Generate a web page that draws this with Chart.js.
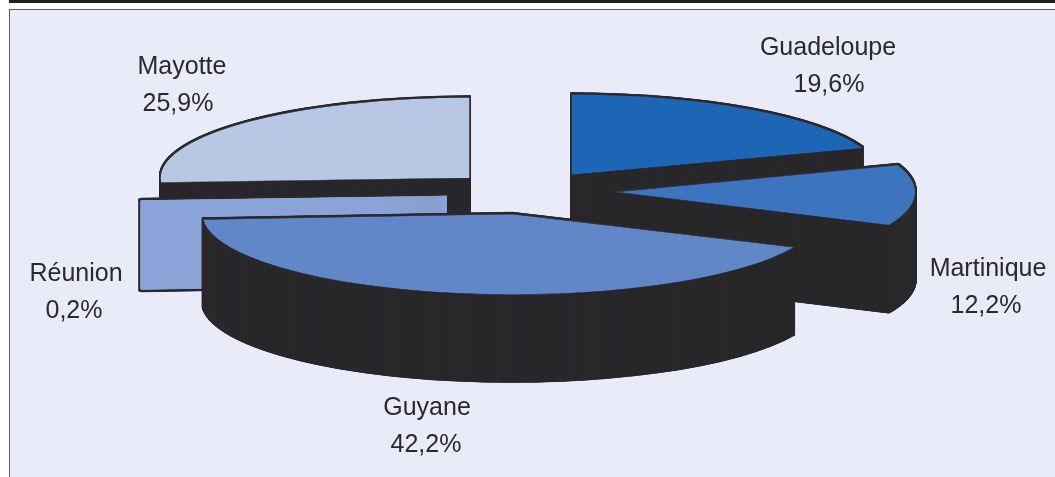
<!DOCTYPE html>
<html lang="fr">
<head>
<meta charset="utf-8">
<title>Répartition</title>
<style>
html,body{margin:0;padding:0;background:#fff;width:1055px;height:477px;overflow:hidden}
#bar{position:absolute;left:9px;top:0;right:0;height:3px;background:#231f20}
#panel{position:absolute;left:9px;top:9px;right:-3px;height:480px;box-sizing:border-box;background:#e9ebf9;border:1.5px solid #5c5c60}
canvas{position:absolute;left:0;top:0}
</style>
<script src="https://cdn.jsdelivr.net/npm/chart.js@4/dist/chart.umd.min.js"></script>
</head>
<body>
<div id="bar"></div>
<div id="panel"></div>
<canvas id="c" width="1055" height="477"></canvas>
<script>
const categories = ['Guadeloupe', 'Martinique', 'Guyane', 'Réunion', 'Mayotte'];
const shares = [19.6, 12.2, 42.2, 0.2, 25.9];
const shareLabels = ['19,6%', '12,2%', '42,2%', '0,2%', '25,9%'];
const colors = ['#1c66b5', '#3c74bf', '#6287c9', '#8ba5d8', '#b8c8e4'];
const explodeX = [51, 95, -8, -73, -50];
const explodeY = [-19, -2, 20, 2, -16];
const rimScale = [1, 0.97, 1, 0.987, 1];
const nameCentres = [[828, 48], [988, 269], [427, 408], [76, 274], [182, 67]];
const shareCentres = [[829, 85], [986, 306], [426, 445], [74, 311], [178, 104]];

const DARK = '#2b292c';
const RADIUS = 310, TILT = 0.26, DEPTH = 88, CX = 520, CY = 194, STEP = 0.25;
const PAINT_ORDER = [4, 0, 3, 1, 2];           // back to front
const OWN_COLOUR_WALL = 3;                     // the Réunion sliver shows its wall in its own colour

function paintArc(ctx, chart, i, arc, dy, overrides) {
  const saved = arc.options;
  arc.options = Object.assign({}, saved, overrides);
  const a = chart.chartArea;
  ctx.save();
  ctx.translate(CX + explodeX[i], CY + explodeY[i] + dy);
  ctx.scale(rimScale[i], TILT);
  ctx.translate(-(a.left + a.right) / 2, -(a.top + a.bottom) / 2);
  arc.draw(ctx);
  ctx.restore();
  arc.options = saved;
}

const pie3d = {
  id: 'pie3d',
  beforeDatasetsDraw(chart) {
    const ctx = chart.ctx;
    const arcs = chart.getDatasetMeta(0).data;
    PAINT_ORDER.forEach(i => {
      const arc = arcs[i];
      if (i === OWN_COLOUR_WALL) {
        for (let dy = DEPTH + 2; dy >= -2; dy -= STEP) paintArc(ctx, chart, i, arc, dy, { backgroundColor: DARK, borderColor: DARK, borderWidth: 6 });
        for (let dy = DEPTH; dy >= 0; dy -= STEP) paintArc(ctx, chart, i, arc, dy, { backgroundColor: colors[i], borderColor: colors[i], borderWidth: 2 });
      } else {
        for (let dy = DEPTH; dy >= -2; dy -= STEP) paintArc(ctx, chart, i, arc, dy, { backgroundColor: DARK, borderColor: DARK, borderWidth: 2 });
        paintArc(ctx, chart, i, arc, 0, { backgroundColor: colors[i], borderColor: DARK, borderWidth: 1.5 });
      }
    });
    ctx.save();
    ctx.fillStyle = DARK;
    ctx.textAlign = 'center';
    ctx.textBaseline = 'middle';
    ctx.font = '25px "Liberation Sans", Arial, sans-serif';
    categories.forEach((name, i) => {
      ctx.fillText(name, nameCentres[i][0], nameCentres[i][1]);
      ctx.fillText(shareLabels[i], shareCentres[i][0], shareCentres[i][1]);
    });
    ctx.restore();
    return false;
  }
};

new Chart(document.getElementById('c'), {
  type: 'pie',
  data: {
    labels: categories,
    datasets: [{ data: shares, backgroundColor: colors, borderWidth: 0 }]
  },
  options: {
    responsive: false,
    animation: false,
    radius: RADIUS,
    rotation: 0,
    layout: { padding: 0 },
    plugins: { legend: { display: false }, tooltip: { enabled: false } }
  },
  plugins: [pie3d]
});
</script>
</body>
</html>
